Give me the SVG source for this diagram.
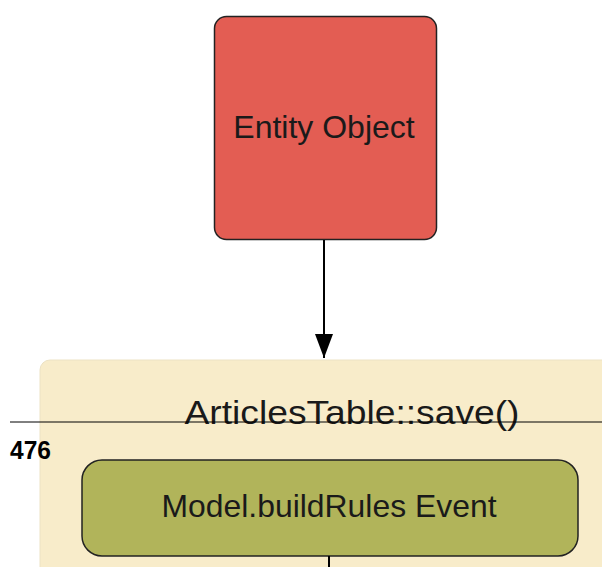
<svg xmlns="http://www.w3.org/2000/svg" width="602" height="567" viewBox="0 0 602 567">
<style>
text{font-family:"Liberation Sans",Arial,sans-serif;fill:#1a1a1a}
.lbl{font-size:32px;text-anchor:middle}
.conn{stroke:#000;stroke-width:2;fill:none}
</style>
<defs>
<marker id="ah" markerWidth="24" markerHeight="18" refX="24" refY="9" orient="auto" markerUnits="userSpaceOnUse" viewBox="0 0 24 18">
<path d="M0,0 L24,9 L0,18 Z" fill="#000"/>
</marker>
</defs>
<rect width="602" height="567" fill="#fff"/>
<g id="container">
<rect x="40" y="360" width="600" height="240" rx="10" fill="#F8ECCA" stroke="#ece2c4" stroke-width="1"/>
<text class="lbl" x="352" y="424" style="font-size:34px" textLength="335" lengthAdjust="spacingAndGlyphs">ArticlesTable::save()</text>
</g>
<g id="entity">
<rect x="214.5" y="16.5" width="222" height="223" rx="12" fill="#E35D53" stroke="#222" stroke-width="1.5"/>
<text class="lbl" x="324" y="138">Entity Object</text>
</g>
<g id="buildrules">
<rect x="82" y="460" width="496" height="96" rx="20" fill="#B1B45A" stroke="#222" stroke-width="1.5"/>
<text class="lbl" x="329" y="517" textLength="335" lengthAdjust="spacingAndGlyphs">Model.buildRules Event</text>
</g>
<g id="connectors">
<line class="conn" x1="324" y1="240" x2="324" y2="358" marker-end="url(#ah)"/>
<line class="conn" x1="329" y1="556" x2="329" y2="567"/>
</g>
<g id="guide">
<line x1="10" y1="422" x2="602" y2="422" stroke="#000" stroke-width="1"/>
<text x="10" y="459" style="font-size:25px;font-weight:bold;fill:#000" textLength="41" lengthAdjust="spacingAndGlyphs">476</text>
</g>
</svg>
